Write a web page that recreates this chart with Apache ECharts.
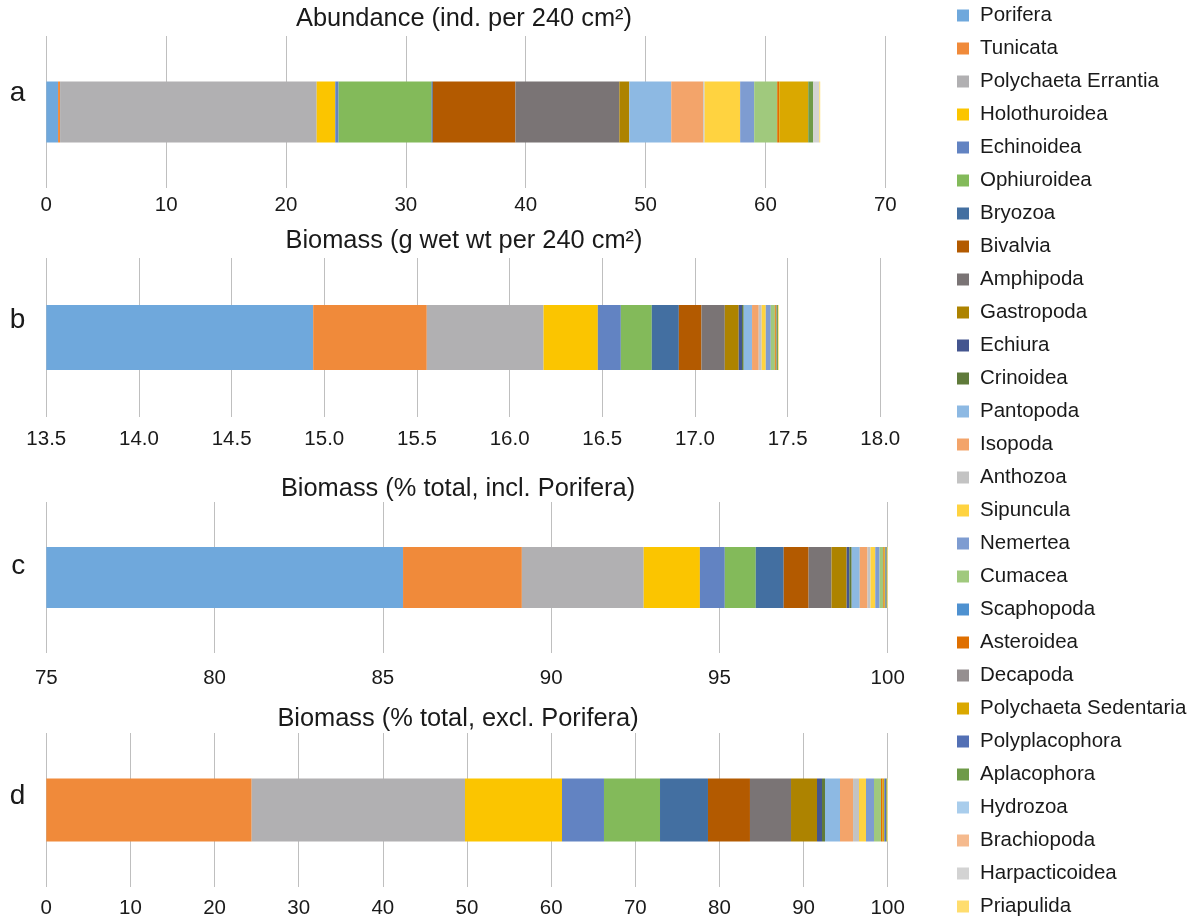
<!DOCTYPE html>
<html>
<head>
<meta charset="utf-8">
<title>Macrofauna abundance and biomass</title>
<script src="https://cdn.jsdelivr.net/npm/echarts@6/dist/echarts.min.js"></script>
<style>
  html, body { margin: 0; padding: 0; background: #ffffff; }
  #chart { width: 1195px; height: 920px; }
</style>
</head>
<body>
<div id="chart"></div>
<script>
// Taxa in stacking order (left to right in every bar, top to bottom in the legend)
const species = [
  'Porifera', 'Tunicata', 'Polychaeta Errantia', 'Holothuroidea', 'Echinoidea',
  'Ophiuroidea', 'Bryozoa', 'Bivalvia', 'Amphipoda', 'Gastropoda', 'Echiura',
  'Crinoidea', 'Pantopoda', 'Isopoda', 'Anthozoa', 'Sipuncula', 'Nemertea',
  'Cumacea', 'Scaphopoda', 'Asteroidea', 'Decapoda', 'Polychaeta Sedentaria',
  'Polyplacophora', 'Aplacophora', 'Hydrozoa', 'Brachiopoda', 'Harpacticoidea',
  'Priapulida'
];

const colors = [
  '#6FA8DC', '#F08A3A', '#B1B0B2', '#FBC500', '#6283C2',
  '#83BA5A', '#436FA1', '#B35A00', '#7A7475', '#AD8300', '#44558F',
  '#5F7A3A', '#8DB9E3', '#F3A46A', '#C3C3C3', '#FFD340', '#7E9CD1',
  '#A0C97D', '#4E91D0', '#DF6F00', '#958F90', '#DAA800',
  '#5370B5', '#6E9A48', '#A9CDEC', '#F5BA8E', '#D3D3D3',
  '#FFDD6E'
];

// a: abundance, individuals per 240 cm2
const abundance = [
  0.98, 0.17, 21.41, 1.55, 0.28,
  7.75, 0.11, 6.89, 8.67, 0.83, 0,
  0, 3.50, 2.67, 0.11, 2.97, 1.17,
  1.92, 0, 0.17, 0, 2.42,
  0, 0.42, 0, 0, 0.50,
  0.08
];

// b: biomass, g wet weight per 240 cm2
const biomass = [
  14.94, 0.613, 0.630, 0.293, 0.124,
  0.167, 0.146, 0.122, 0.126, 0.075, 0.018,
  0.009, 0.045, 0.036, 0.016, 0.022, 0.027,
  0.022, 0, 0.005, 0, 0.004,
  0.003, 0.005, 0, 0, 0,
  0.004
];

// c: biomass, % of total including Porifera
const pctIncl = [
  85.60, 3.53, 3.62, 1.67, 0.74,
  0.92, 0.83, 0.74, 0.68, 0.45, 0.08,
  0.07, 0.24, 0.23, 0.09, 0.14, 0.13,
  0.11, 0, 0.03, 0, 0.03,
  0.03, 0.02, 0, 0, 0,
  0.02
];

// d: biomass, % of total excluding Porifera
const pctExcl = [
  0, 24.41, 25.35, 11.53, 4.99,
  6.66, 5.70, 4.99, 4.88, 3.09, 0.59,
  0.36, 1.78, 1.55, 0.71, 0.83, 0.95,
  0.83, 0, 0.20, 0, 0.20,
  0.20, 0.10, 0, 0, 0,
  0.10
];

const panelLabels = ['a', 'b', 'c', 'd'];
const panelTitles = [
  'Abundance (ind. per 240 cm²)',
  'Biomass (g wet wt per 240 cm²)',
  'Biomass (% total, incl. Porifera)',
  'Biomass (% total, excl. Porifera)'
];
const panelData = [abundance, biomass, pctIncl, pctExcl];
const axisMin = [0, 13.5, 75, 0];
const axisMax = [70, 18, 100, 100];
const axisStep = [10, 0.5, 5, 10];
const axisDecimals = [0, 1, 0, 0];

// layout of the four stacked panels
const grids = [
  { left: 46.3, right: 309.7, top: 36, height: 152 },
  { left: 46.3, right: 314.7, top: 258, height: 159 },
  { left: 46.3, right: 307.3, top: 502, height: 151 },
  { left: 46.3, right: 307.3, top: 733, height: 154 }
];
const barWidths = [61, 65, 61, 63];
const labelMargins = [7, 12, 15, 11];
const panelLabelLine = [38, 34, 22, 28];
const titleCenters = [464, 464, 458, 458];
const titleTops = [6, 228, 476, 706];

const FONT = '"Liberation Sans", Arial, Helvetica, sans-serif';
const TEXT = '#1a1a1a';

const chart = echarts.init(document.getElementById('chart'), null, { renderer: 'canvas' });

const xAxes = [], yAxes = [], series = [], titles = [];
panelLabels.forEach(function (lab, p) {
  xAxes.push({
    type: 'value',
    gridIndex: p,
    min: axisMin[p],
    max: axisMax[p],
    interval: axisStep[p],
    axisLine: { show: false },
    axisTick: { show: false },
    splitLine: { show: true, lineStyle: { color: '#BFBFBF', width: 1 } },
    axisLabel: {
      margin: labelMargins[p],
      fontSize: 20.5,
      fontFamily: FONT,
      color: TEXT,
      formatter: function (v) { return v.toFixed(axisDecimals[p]); }
    }
  });
  yAxes.push({
    type: 'category',
    gridIndex: p,
    data: [lab],
    axisLine: { show: false },
    axisTick: { show: false },
    axisLabel: {
      margin: 21,
      fontSize: 28,
      lineHeight: panelLabelLine[p],
      fontFamily: FONT,
      color: TEXT,
      verticalAlign: 'bottom'
    }
  });
  titles.push({
    text: panelTitles[p],
    left: titleCenters[p],
    top: titleTops[p],
    textAlign: 'center',
    padding: 0,
    textStyle: { fontSize: 25.4, fontWeight: 'normal', fontFamily: FONT, color: TEXT }
  });
  species.forEach(function (name, i) {
    series.push({
      name: name,
      type: 'bar',
      xAxisIndex: p,
      yAxisIndex: p,
      stack: 'panel' + p,
      barWidth: barWidths[p],
      clip: true,
      silent: true,
      itemStyle: { color: colors[i] },
      emphasis: { disabled: true },
      data: [panelData[p][i]]
    });
  });
});

chart.setOption({
  animation: false,
  backgroundColor: '#ffffff',
  title: titles,
  grid: grids,
  xAxis: xAxes,
  yAxis: yAxes,
  legend: {
    orient: 'vertical',
    left: 957,
    top: 5,
    padding: 0,
    itemGap: 12,
    itemWidth: 12,
    itemHeight: 12,
    icon: 'rect',
    selectedMode: false,
    data: species,
    textStyle: {
      fontSize: 20.5,
      lineHeight: 21,
      fontFamily: FONT,
      color: TEXT,
      padding: [0, 0, 0, 6]
    }
  },
  series: series
});
</script>
</body>
</html>
